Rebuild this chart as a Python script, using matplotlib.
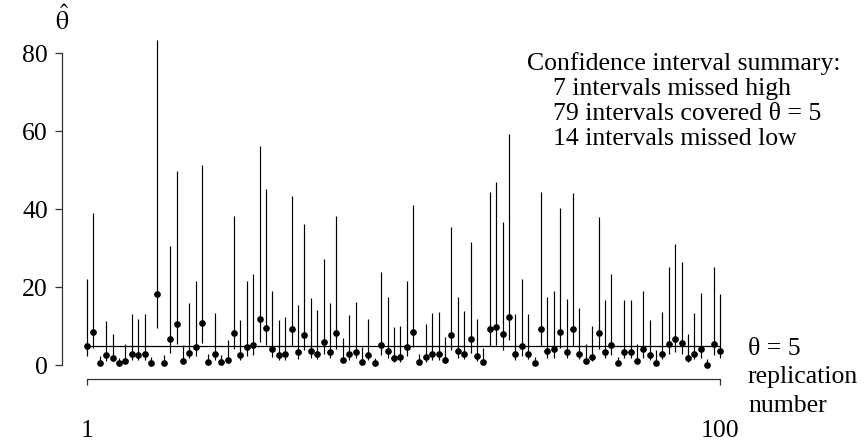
import matplotlib
matplotlib.use("Agg")
import matplotlib.pyplot as plt

plt.rcParams['font.family'] = ['Liberation Serif', 'DejaVu Serif']
plt.rcParams['mathtext.fontset'] = 'stix'
plt.rcParams['font.size'] = 18.5

theta = 5  # true value

replication = list(range(1, 101))

# point estimates
est = [5.0, 8.5, 0.5, 2.6, 1.8, 0.5, 1.2, 2.8, 2.6, 2.8,
       0.5, 18.2, 0.5, 6.7, 10.5, 1.2, 3.2, 4.6, 10.8, 0.8,
       3.0, 0.8, 1.4, 8.2, 2.6, 4.6, 5.2, 11.8, 9.5, 4.1,
       2.6, 2.8, 9.2, 3.3, 7.8, 3.6, 3.0, 5.9, 3.3, 8.2,
       1.4, 2.8, 3.4, 0.9, 2.6, 0.5, 5.1, 3.7, 2.0, 2.2,
       4.6, 8.6, 0.8, 2.2, 2.9, 2.9, 1.4, 7.8, 3.7, 3.0,
       6.7, 2.4, 0.9, 9.2, 9.9, 8.0, 12.5, 2.9, 5.0, 2.9,
       0.5, 9.2, 3.7, 4.1, 8.5, 3.4, 9.3, 3.0, 1.2, 2.2,
       8.2, 3.4, 5.2, 0.5, 3.4, 3.4, 1.2, 4.1, 2.6, 0.7,
       3.0, 5.5, 6.7, 5.6, 1.8, 3.0, 4.1, 0.2, 5.5, 3.7]

# lower ends of the intervals
lower = [2.4, 4.4, 0.2, 1.0, 1.0, 0.2, 0.5, 1.4, 1.3, 1.3,
         0.2, 9.5, 0.2, 3.2, 5.4, 0.5, 1.8, 2.4, 5.7, 0.3,
         1.4, 0.3, 0.7, 4.1, 1.4, 2.4, 2.6, 6.1, 5.1, 2.2,
         1.4, 1.4, 4.9, 1.6, 4.0, 1.8, 1.6, 3.0, 1.8, 4.1,
         0.9, 1.4, 1.8, 0.4, 1.4, 0.2, 2.6, 1.8, 0.9, 0.9,
         2.4, 4.6, 0.3, 0.9, 1.4, 1.4, 0.7, 4.0, 1.8, 1.6,
         3.2, 1.2, 0.4, 4.9, 5.2, 4.0, 6.5, 1.4, 2.4, 1.6,
         0.2, 4.9, 1.8, 2.0, 4.4, 1.8, 4.9, 1.6, 0.5, 1.0,
         4.1, 1.8, 2.6, 0.2, 1.8, 1.8, 0.5, 2.0, 1.4, 0.3,
         1.6, 2.8, 3.4, 3.0, 0.9, 1.6, 2.0, 0.1, 2.6, 1.8]

# upper ends of the intervals
upper = [22.0, 39.0, 2.3, 11.4, 8.0, 1.9, 5.5, 13.1, 11.8, 13.1,
         2.2, 83.4, 2.6, 30.7, 49.8, 5.2, 15.9, 21.7, 51.4, 3.0,
         13.5, 2.6, 6.5, 38.3, 11.6, 21.6, 23.3, 56.1, 45.3, 19.1,
         11.6, 12.5, 43.5, 15.4, 36.2, 17.2, 14.2, 27.3, 15.9, 38.4,
         6.9, 12.8, 16.2, 4.8, 11.8, 2.0, 23.8, 17.6, 9.7, 10.2,
         21.7, 41.1, 2.9, 10.6, 13.5, 13.7, 7.3, 35.5, 17.6, 13.9,
         31.7, 11.8, 4.4, 44.4, 47.0, 36.8, 59.3, 13.1, 22.1, 13.1,
         2.2, 44.4, 17.5, 19.1, 40.3, 17.1, 44.1, 14.6, 5.5, 10.1,
         37.9, 16.7, 23.5, 2.2, 16.8, 16.8, 5.5, 19.1, 11.6, 4.0,
         13.6, 25.1, 31.0, 26.4, 8.0, 13.5, 18.6, 1.5, 25.1, 18.2]

W, H = 864, 445
fig = plt.figure(figsize=(W / 100, H / 100), dpi=100)
# axes placed in pixels: left spine at x=62, plot from y=40 to y=379
ax = fig.add_axes([62 / W, 1 - 379 / H, 668 / W, 339 / H])

ax.vlines(replication, lower, upper, color='black', linewidth=0.85)
ax.plot(replication, est, 'o', color='black', markersize=3.8)
ax.hlines(theta, 1, 100, color='black', linewidth=0.9)

ax.set_xlim(-2.91, 101.56)
ax.set_ylim(-3.51, 83.4)

for s in ['top', 'right']:
    ax.spines[s].set_visible(False)
ax.spines['left'].set_bounds(0, 80)
ax.spines['bottom'].set_bounds(1, 100)
for s in ['left', 'bottom']:
    ax.spines[s].set_color('#333333')
    ax.spines[s].set_linewidth(0.9)

ax.set_yticks([0, 20, 40, 60, 80])
ax.set_xticks([1, 100])
ax.set_xticklabels(['1', '100'])
ax.tick_params(axis='y', direction='out', length=5, width=0.9, pad=5, color='#333333')
ax.tick_params(axis='x', direction='out', length=4.3, width=0.9, pad=25, color='#333333')


def px(x, y):
    return x / W, 1 - y / H


fig.text(*px(62, 30), r'$\hat{\mathrm{\theta}}$', ha='center', va='baseline')
fig.text(*px(748, 355), 'θ = 5', ha='left', va='baseline')
fig.text(*px(748, 383), 'replication', ha='left', va='baseline')
fig.text(*px(748, 412), 'number', ha='left', va='baseline')

fig.text(*px(527, 70), 'Confidence interval summary:', ha='left', va='baseline')
fig.text(*px(553, 95), '7 intervals missed high', ha='left', va='baseline')
fig.text(*px(553, 120), '79 intervals covered θ = 5', ha='left', va='baseline')
fig.text(*px(553, 145), '14 intervals missed low', ha='left', va='baseline')

fig.savefig('out.png', dpi=100)
